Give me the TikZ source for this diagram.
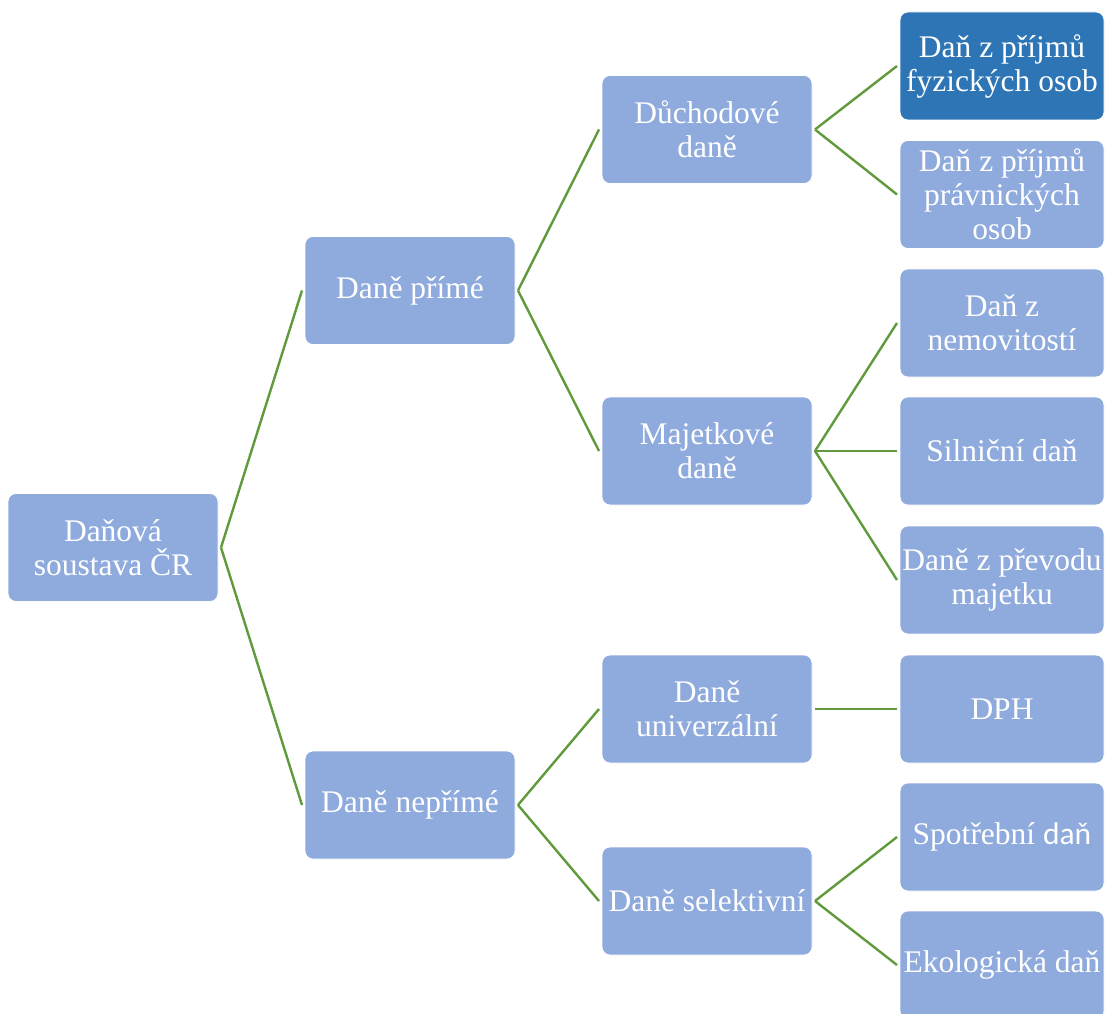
\documentclass[tikz,border=0pt]{standalone}
\usepackage{fontspec}
\setmainfont{Liberation Serif}
\newfontfamily\calibrifont{Carlito}
\usetikzlibrary{positioning}
\definecolor{boxblue}{RGB}{143,170,220}
\definecolor{darkblue}{RGB}{46,117,182}
\definecolor{linkgreen}{RGB}{96,154,60}

\begin{document}
\begin{tikzpicture}[
  x=1pt, y=-1pt,
  taxbox/.style={draw=white, line width=0.8pt, fill=boxblue, rounded corners=8pt,
    minimum width=210pt, minimum height=108pt, align=center, text=white,
    font=\fontsize{31.5}{34}\selectfont, inner sep=2pt, outer sep=3pt},
  leafbox/.style={taxbox, minimum width=204pt},
  link/.style={draw=linkgreen, line width=2.4pt}
]
  \useasboundingbox (0,0) rectangle (1105,1014);

  % root and first level
  \node[taxbox] (soustava) at (113,547.5) {Daňová\\soustava ČR};
  \node[taxbox] (prime) at (410,290.5) {Daně přímé};
  \node[taxbox] (neprime) at (410,805) {Daně nepřímé};

  % second level
  \node[taxbox] (duchodove) at (707,129.5) {Důchodové\\daně};
  \node[taxbox] (majetkove) at (707,451) {Majetkové\\daně};
  \node[taxbox] (univerzalni) at (707,709) {Daně\\univerzální};
  \node[taxbox] (selektivni) at (707,901) {Daně selektivní};

  % leaves
  \node[leafbox, fill=darkblue] (fyzicke) at (1002,66) {Daň z příjmů\\fyzických osob};
  \node[leafbox] (pravnicke) at (1002,194.5) {Daň z příjmů\\právnických\\osob};
  \node[leafbox] (nemovitosti) at (1002,323) {Daň z\\nemovitostí};
  \node[leafbox] (silnicni) at (1002,451) {Silniční daň};
  \node[leafbox] (prevod) at (1002,580) {Daně z převodu\\majetku};
  \node[leafbox] (dph) at (1002,709) {DPH};
  \node[leafbox] (spotrebni) at (1002,837) {Spotřební {\calibrifont daň}};
  \node[leafbox] (ekologicka) at (1002,965) {Ekologická daň};

  % connectors
  \draw[link] (soustava.east) -- (prime.west);
  \draw[link] (soustava.east) -- (neprime.west);
  \draw[link] (prime.east) -- (duchodove.west);
  \draw[link] (prime.east) -- (majetkove.west);
  \draw[link] (neprime.east) -- (univerzalni.west);
  \draw[link] (neprime.east) -- (selektivni.west);
  \draw[link] (duchodove.east) -- (fyzicke.west);
  \draw[link] (duchodove.east) -- (pravnicke.west);
  \draw[link] (majetkove.east) -- (nemovitosti.west);
  \draw[link] (majetkove.east) -- (silnicni.west);
  \draw[link] (majetkove.east) -- (prevod.west);
  \draw[link] (univerzalni.east) -- (dph.west);
  \draw[link] (selektivni.east) -- (spotrebni.west);
  \draw[link] (selektivni.east) -- (ekologicka.west);
\end{tikzpicture}
\end{document}
